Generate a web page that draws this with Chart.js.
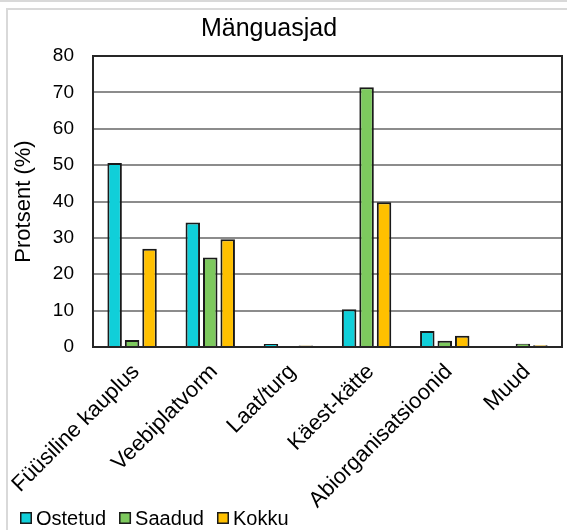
<!DOCTYPE html>
<html>
<head>
<meta charset="utf-8">
<script src="https://cdn.jsdelivr.net/npm/chart.js@4.4.1/dist/chart.umd.min.js"></script>
<style>
    html, body { margin: 0; padding: 0; background: #fff; }
    #wrap { position: relative; width: 567px; height: 530px; }
</style>
</head>
<body>
<div id="wrap"><canvas id="chart" width="567" height="530"></canvas></div>
<script>
(function () {
    'use strict';

    const categories = ['Füüsiline kauplus', 'Veebiplatvorm', 'Laat/turg', 'Käest-kätte', 'Abiorganisatsioonid', 'Muud'];
    const ostetud = [50.6, 34.2, 0.8, 10.4, 4.4, 0];
    const saadud = [1.9, 24.6, 0, 71.4, 1.7, 0.9];
    const kokku = [27.0, 29.6, 0.4, 39.8, 3.1, 0.5];
    const seriesNames = ['Ostetud', 'Saadud', 'Kokku'];
    const seriesColors = ['#10cfd9', '#7dc95e', '#ffc000'];
    const yTicks = [0, 10, 20, 30, 40, 50, 60, 70, 80];

    const FONT = '"Liberation Sans", Arial, sans-serif';

    // frame pieces of the original picture + box around the plot
    const framePlugin = {
        id: 'frame',
        beforeDraw(chart) {
            const ctx = chart.ctx;
            ctx.save();
            ctx.strokeStyle = '#d9d9d9';
            ctx.lineWidth = 2;
            ctx.beginPath();
            ctx.moveTo(0, 1); ctx.lineTo(567, 1);
            ctx.moveTo(567, 9); ctx.lineTo(7, 9); ctx.lineTo(7, 530);
            ctx.stroke();
            ctx.restore();
        },
        afterDatasetsDraw(chart) {
            const a = chart.chartArea;
            const ctx = chart.ctx;
            ctx.save();
            ctx.strokeStyle = '#262626';
            ctx.lineWidth = 2;
            ctx.strokeRect(a.left, a.top, a.right - a.left, a.bottom - a.top);
            ctx.restore();
        }
    };

    const titlePlugin = {
        id: 'ownTitle',
        afterDraw(chart) {
            const ctx = chart.ctx;
            ctx.save();
            ctx.fillStyle = '#000';
            ctx.font = '25px ' + FONT;
            ctx.textAlign = 'center';
            ctx.textBaseline = 'alphabetic';
            ctx.fillText('Mänguasjad', 269, 36);
            ctx.restore();
        }
    };

    const legendPlugin = {
        id: 'ownLegend',
        afterDraw(chart) {
            const ctx = chart.ctx;
            ctx.save();
            ctx.font = '20px ' + FONT;
            ctx.textBaseline = 'middle';
            let x = 20;
            const y = 518;
            chart.data.datasets.forEach(ds => {
                ctx.fillStyle = ds.backgroundColor;
                ctx.fillRect(x, y - 6, 12, 12);
                ctx.strokeStyle = '#1a1a1a';
                ctx.lineWidth = 1.5;
                ctx.strokeRect(x + 0.75, y - 5.25, 10.5, 10.5);
                ctx.fillStyle = '#000';
                ctx.fillText(ds.label, x + 16, y + 1);
                x += 16 + ctx.measureText(ds.label).width + 13;
            });
            ctx.restore();
        }
    };

    const datasets = [ostetud, saadud, kokku].map((values, i) => ({
        label: seriesNames[i],
        data: values,
        backgroundColor: seriesColors[i],
        borderColor: '#1a1a1a',
        borderWidth: 2,
        categoryPercentage: 0.67,
        barPercentage: 0.83
    }));

    new Chart(document.getElementById('chart'), {
        type: 'bar',
        data: { labels: categories, datasets: datasets },
        plugins: [framePlugin, titlePlugin, legendPlugin],
        options: {
            responsive: false,
            animation: false,
            devicePixelRatio: 1,
            layout: { padding: { top: 56, right: 5, bottom: 0, left: 0 } },
            plugins: {
                legend: { display: false },
                title: { display: false },
                tooltip: { enabled: false }
            },
            scales: {
                x: {
                    grid: { display: false, drawTicks: false },
                    border: { display: false },
                    ticks: {
                        autoSkip: false,
                        minRotation: 45,
                        maxRotation: 45,
                        padding: 12,
                        labelOffset: 4,
                        color: '#000',
                        font: { family: FONT, size: 22 }
                    },
                    afterFit(scale) {
                        scale.height = 183;
                        scale.paddingLeft = 0;
                        scale.paddingRight = 0;
                    }
                },
                y: {
                    min: 0,
                    max: 80,
                    afterBuildTicks(scale) { scale.ticks = yTicks.map(v => ({ value: v })); },
                    grid: { color: '#8c8c8c', lineWidth: 2, drawTicks: false },
                    border: { display: false },
                    ticks: {
                        padding: 19,
                        color: '#000',
                        font: { family: FONT, size: 19 }
                    },
                    title: {
                        display: true,
                        text: 'Protsent (%)',
                        color: '#000',
                        font: { family: FONT, size: 22 },
                        padding: { top: 11, bottom: 0 }
                    },
                    afterFit(scale) { scale.width = 93; }
                }
            }
        }
    });
})();
</script>
</body>
</html>
